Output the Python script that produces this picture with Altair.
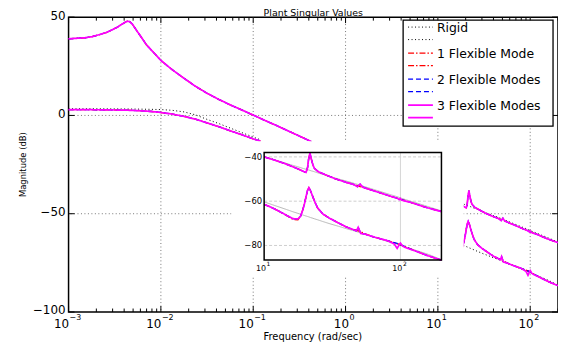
import altair as alt
import pandas as pd

# ---------------- data ----------------
models = ["Rigid", "1 Flexible Mode", "2 Flexible Modes", "3 Flexible Modes"]
line_colors = ["#000000", "#ff0000", "#0000ff", "#ff00ff"]
line_dashes = [[1, 2.5], [6, 2, 1.5, 2], [5, 3], [1, 0]]
line_widths = [1.0, 1.3, 1.3, 1.7]

# low-frequency part (main axes)
low_f_upper = [0.001, 0.0012, 0.0015, 0.0018, 0.00216, 0.0026, 0.00298, 0.0034, 0.00372, 0.0041,
               0.00432, 0.0046, 0.0049, 0.0055, 0.0062, 0.00693, 0.00775, 0.0085, 0.01, 0.0133,
               0.0178, 0.0237, 0.0316, 0.0422, 0.0562, 0.075, 0.1, 0.133, 0.178, 0.237, 0.316, 0.425]
low_db_upper = [39.0, 39.2, 39.5, 40.1, 41.1, 42.3, 43.6, 45.0, 46.2, 47.4,
                47.9, 47.7, 46.5, 43.0, 39.5, 36.1, 33.6, 31.6, 28.0, 23.2,
                18.9, 14.8, 11.3, 8.2, 5.4, 2.8, 0.2, -2.5, -5.1, -7.8, -10.5, -13.3]
low_f_lower = [0.001, 0.002, 0.004, 0.006, 0.008, 0.01, 0.0133, 0.0178, 0.0237, 0.0316, 0.0422,
               0.0562, 0.075, 0.1, 0.12]
low_db_lower_flex = [3.0, 2.9, 2.7, 2.4, 2.0, 1.5, 0.7, -0.5, -1.9, -3.8, -5.7,
                     -7.8, -9.8, -11.9, -13.1]
low_db_lower_rigid = [3.4, 3.4, 3.3, 3.2, 3.1, 3.0, 2.6, 1.8, 0.3, -2.0, -4.1,
                      -6.4, -8.7, -11.0, -12.4]

# high-frequency part (inset and right side of main axes)
high_f_upper = [10, 12, 14, 16, 18, 19.5, 20.3, 20.8, 21.2, 21.7, 22.2, 22.8, 23.4, 25, 28.5, 33,
                40, 45, 47, 48.5, 50.6, 53, 60, 70, 85, 95, 98, 100, 102, 120, 150, 200]
high_upper_rigid = [-40.0, -41.4, -42.6, -43.7, -44.6, -45.3, -45.6, -45.8, -45.9, -46.1, -46.3,
                    -46.5, -46.7, -47.3, -48.3, -49.5, -50.9, -51.8, -52.2, -52.4, -52.8, -53.2,
                    -54.2, -55.5, -57.1, -58.0, -58.3, -58.5, -58.7, -60.1, -61.9, -64.4]
high_upper_flex1 = [-40.0, -41.5, -42.9, -44.3, -45.6, -46.6, -47.0, -45.0, -41.0, -38.3, -41.0,
                    -43.6, -45.2, -46.7, -48.2, -49.8, -51.5, -52.4, -52.8, -53.0, -53.4, -53.7,
                    -54.8, -56.1, -57.8, -58.7, -59.0, -59.2, -59.3, -60.6, -62.6, -64.7]
high_upper_flex2 = [-40.0, -41.5, -42.9, -44.3, -45.6, -46.6, -47.0, -45.0, -41.0, -38.3, -41.0,
                    -43.6, -45.2, -46.7, -48.2, -49.8, -51.5, -52.4, -53.0, -53.5, -52.3, -53.7,
                    -54.8, -56.1, -57.8, -58.7, -59.0, -59.2, -59.3, -60.6, -62.6, -64.7]
high_upper_flex3 = [-40.0, -41.5, -42.9, -44.3, -45.6, -46.6, -47.0, -45.0, -41.0, -38.3, -41.0,
                    -43.6, -45.2, -46.7, -48.2, -49.8, -51.5, -52.4, -53.0, -53.5, -52.3, -53.7,
                    -54.8, -56.1, -57.8, -58.7, -59.3, -58.8, -59.5, -60.6, -62.6, -64.7]

high_f_lower = [10, 11.5, 13, 14.5, 16.3, 17.7, 18.5, 19.2, 19.8, 20.3, 20.8, 21.3, 21.9, 22.5,
                23.5, 24.7, 27, 30, 35, 40, 44.5, 47.5, 49, 51.2, 55, 65, 80, 90, 94.6, 99, 100,
                104, 108.6, 130, 160, 200]
high_lower_rigid = [-60.3, -61.6, -62.7, -63.7, -64.8, -65.5, -65.9, -66.2, -66.5, -66.7, -66.9,
                    -67.1, -67.4, -67.6, -68.0, -68.4, -69.2, -70.1, -71.3, -72.4, -73.2, -73.7,
                    -74.0, -74.4, -75.0, -76.4, -78.1, -79.0, -79.5, -79.9, -80.0, -80.3, -80.7,
                    -82.2, -84.0, -86.4]
high_lower_flex1 = [-61.4, -63.0, -64.7, -66.3, -68.3, -68.4, -66.8, -64.0, -61.0, -57.9, -55.2,
                    -53.9, -55.3, -57.2, -60.2, -63.1, -65.8, -67.6, -69.8, -71.6, -72.7, -73.1,
                    -73.4, -73.8, -74.8, -76.3, -77.8, -78.7, -79.1, -79.6, -79.7, -80.1, -80.6,
                    -82.6, -84.7, -86.6]
high_lower_flex2 = [-61.4, -63.0, -64.7, -66.3, -67.9, -68.0, -66.8, -64.0, -61.0, -57.9, -55.2,
                    -53.9, -55.3, -57.2, -60.2, -63.1, -65.8, -67.6, -69.8, -71.6, -72.7, -73.4,
                    -71.8, -74.6, -74.9, -76.3, -77.8, -78.7, -79.1, -79.6, -79.7, -80.1, -80.6,
                    -82.6, -84.7, -86.6]
high_lower_flex3 = [-61.4, -63.0, -64.7, -66.3, -67.9, -68.0, -66.8, -64.0, -61.0, -57.9, -55.2,
                    -53.9, -55.3, -57.2, -60.2, -63.1, -65.8, -67.6, -69.8, -71.6, -72.7, -73.4,
                    -71.8, -74.6, -74.9, -76.3, -77.8, -79.3, -81.3, -79.2, -78.9, -80.3, -80.9,
                    -82.6, -84.7, -86.6]

high_upper = [high_upper_rigid, high_upper_flex1, high_upper_flex2, high_upper_flex3]
high_lower = [high_lower_rigid, high_lower_flex1, high_lower_flex2, high_lower_flex3]

# axes / ticks
x_major = [0.001, 0.01, 0.1, 1, 10, 100]
x_exps = ["\u22123", "\u22122", "\u22121", "0", "1", "2"]
x_grid = [0.01, 0.1, 1, 10, 100]
x_minor = [m * 10.0 ** k for k in range(-3, 3) for m in range(2, 10) if m * 10.0 ** k <= 200]
y_major = [50, 0, -50, -100]
y_labels = ["50", "0", "\u221250", "\u2212100"]
y_grid = [0, -50]

inset_f = [10, 200]
inset_db = [-86.6, -38.0]
inset_x_ticks = [10, 100]
inset_x_exps = ["1", "2"]
inset_y_ticks = [-40, -60, -80]
inset_y_labels = ["\u221240", "\u221260", "\u221280"]

# ---------------- layout ----------------
W, H = 493, 297
FONT = "DejaVu Sans"

rows = []


def add(curve, freqs, values, model):
    for f, d in zip(freqs, values):
        rows.append({"curve": curve, "model": model, "f": f, "db": d})


for m in models:
    add("low_upper", low_f_upper, low_db_upper, m)
    add("low_lower", low_f_lower, low_db_lower_rigid if m == "Rigid" else low_db_lower_flex, m)
for m, up, lo in zip(models, high_upper, high_lower):
    add("high_upper", high_f_upper, up, m)
    add("high_lower", high_f_lower, lo, m)
curves = pd.DataFrame(rows)
high_curves = curves[curves["curve"].str.startswith("high")]
one = pd.DataFrame({"a": [0]})

XS = alt.Scale(type="log", domain=[0.001, 200], nice=False)
YS = alt.Scale(domain=[-100, 50], nice=False, zero=False)


def mx(f):
    return alt.X(f, scale=XS, axis=None)


def my(f):
    return alt.Y(f, scale=YS, axis=None)


main = []
grid_style = dict(color="#555555", strokeDash=[1, 2.5], strokeWidth=0.8)
main.append(alt.Chart(pd.DataFrame({"v": x_grid})).mark_rule(**grid_style).encode(x=mx("v:Q")))
main.append(alt.Chart(pd.DataFrame({"v": y_grid})).mark_rule(**grid_style).encode(y=my("v:Q")))

for m, c, d, w in zip(models, line_colors, line_dashes, line_widths):
    main.append(
        alt.Chart(curves).transform_filter(alt.datum.model == m)
        .mark_line(color=c, strokeDash=d, strokeWidth=w)
        .encode(x=mx("f:Q"), y=my("db:Q"), detail="curve:N")
    )

# white area behind the inset
main.append(alt.Chart(one).mark_rect(color="white").encode(
    x=alt.value(164), x2=alt.value(398), y=alt.value(125), y2=alt.value(261)))

# inward ticks
tick = dict(color="black", strokeWidth=1)
for vals, ln in ((x_major, 6), (x_minor, 3.5)):
    df = pd.DataFrame({"v": vals})
    main.append(alt.Chart(df).mark_rule(**tick).encode(x=mx("v:Q"), y=alt.value(H), y2=alt.value(H - ln)))
    main.append(alt.Chart(df).mark_rule(**tick).encode(x=mx("v:Q"), y=alt.value(0), y2=alt.value(ln)))
ydf = pd.DataFrame({"v": y_major, "t": y_labels})
main.append(alt.Chart(ydf).mark_rule(**tick).encode(y=my("v:Q"), x=alt.value(0), x2=alt.value(6)))
main.append(alt.Chart(ydf).mark_rule(**tick).encode(y=my("v:Q"), x=alt.value(W - 6), x2=alt.value(W)))

# y tick labels
main.append(alt.Chart(ydf).mark_text(align="right", baseline="middle", font=FONT, fontSize=12, dy=-1.5).encode(
    x=alt.value(-3), y=my("v:Q"), text="t:N"))

# x tick labels (10 with superscript exponent)
xdf = pd.DataFrame({"v": x_major, "e": x_exps})
for cond, dxb in ((alt.datum.v < 1, 0.5), (alt.datum.v >= 1, 3.5)):
    main.append(alt.Chart(xdf).transform_filter(cond).mark_text(
        align="right", baseline="alphabetic", font=FONT, fontSize=12, dx=dxb).encode(
        x=mx("v:Q"), y=alt.value(H + 16), text=alt.value("10")))
    main.append(alt.Chart(xdf).transform_filter(cond).mark_text(
        align="left", baseline="alphabetic", font=FONT, fontSize=8, dx=dxb + 0.5).encode(
        x=mx("v:Q"), y=alt.value(H + 8.5), text="e:N"))

# titles
main.append(alt.Chart(one).mark_text(align="center", baseline="alphabetic", font=FONT, fontSize=10).encode(
    x=alt.value(246), y=alt.value(H + 28), text=alt.value("Frequency (rad/sec)")))
main.append(alt.Chart(one).mark_text(align="center", baseline="middle", font=FONT, fontSize=8.5, angle=270).encode(
    x=alt.value(-46), y=alt.value(H / 2), text=alt.value("Magnitude (dB)")))
main.append(alt.Chart(one).mark_text(align="center", baseline="alphabetic", font=FONT, fontSize=9.5).encode(
    x=alt.value(246.5), y=alt.value(-1), text=alt.value("Plant Singular Values")))

# legend
main.append(alt.Chart(one).mark_rect(fill="white", stroke="black", strokeWidth=1.3).encode(
    x=alt.value(337), x2=alt.value(488), y=alt.value(3), y2=alt.value(109.7)))
for i, (m, c, d, w) in enumerate(zip(models, line_colors, line_dashes, line_widths)):
    y0 = 10.0 + 26.2 * i
    for yy in (y0, y0 + 12.6):
        main.append(alt.Chart(one).mark_rule(color=c, strokeDash=d, strokeWidth=w).encode(
            x=alt.value(342), x2=alt.value(367), y=alt.value(yy)))
    main.append(alt.Chart(one).mark_text(align="left", baseline="middle", font=FONT, fontSize=12.5).encode(
        x=alt.value(371), y=alt.value(y0 + 0.8), text=alt.value(m)))

# ---------------- inset ----------------
IX = alt.Scale(type="log", domain=inset_f, range=[197, 375.6], nice=False)
IY = alt.Scale(domain=inset_db, range=[244.7, 136.3], nice=False, zero=False)


def ix(f):
    return alt.X(f, scale=IX, axis=None)


def iy(f):
    return alt.Y(f, scale=IY, axis=None)


inset = []
hg = pd.DataFrame({"v": inset_y_ticks, "t": inset_y_labels, "x0": inset_f[0], "x1": inset_f[1]})
inset.append(alt.Chart(hg).mark_rule(color="#c8c8c8", strokeDash=[3, 2], strokeWidth=0.9).encode(
    x=ix("x0:Q"), x2="x1:Q", y=iy("v:Q")))
vg = pd.DataFrame({"v": [100], "y0": inset_db[0], "y1": inset_db[1]})
inset.append(alt.Chart(vg).mark_rule(color="#d0d0d0", strokeWidth=0.9).encode(
    x=ix("v:Q"), y=iy("y0:Q"), y2="y1:Q"))

inset_colors = ["#b4b4b4", "#ff0000", "#0000ff", "#ff00ff"]
inset_dashes = [[1, 0], [6, 2, 1.5, 2], [5, 3], [1, 0]]
for m, c, d, w in zip(models, inset_colors, inset_dashes, line_widths):
    inset.append(
        alt.Chart(high_curves).transform_filter(alt.datum.model == m)
        .mark_line(color=c, strokeDash=d, strokeWidth=w)
        .encode(x=ix("f:Q"), y=iy("db:Q"), detail="curve:N")
    )

fr = pd.DataFrame({"x0": [inset_f[0]], "x1": [inset_f[1]], "y0": [inset_db[0]], "y1": [inset_db[1]]})
inset.append(alt.Chart(fr).mark_rect(fillOpacity=0, stroke="black", strokeWidth=1.5).encode(
    x=ix("x0:Q"), x2="x1:Q", y=iy("y0:Q"), y2="y1:Q"))

inset.append(alt.Chart(hg).mark_text(align="right", baseline="middle", font=FONT, fontSize=8.5, dx=-2).encode(
    x=ix("x0:Q"), y=iy("v:Q"), text="t:N"))
ixdf = pd.DataFrame({"v": inset_x_ticks, "e": inset_x_exps})
inset.append(alt.Chart(ixdf).mark_text(align="right", baseline="alphabetic", font=FONT, fontSize=8, dx=2).encode(
    x=ix("v:Q"), y=alt.value(256), text=alt.value("10")))
inset.append(alt.Chart(ixdf).mark_text(align="left", baseline="alphabetic", font=FONT, fontSize=6, dx=2.5).encode(
    x=ix("v:Q"), y=alt.value(250.5), text="e:N"))

chart = (
    alt.layer(alt.layer(*main), alt.layer(*inset))
    .resolve_scale(x="independent", y="independent")
    .properties(width=W, height=H,
                padding={"left": 61, "top": 8, "right": 0, "bottom": 31},
                autosize=alt.AutoSizeParams(type="none"))
    .configure_view(stroke="black", strokeWidth=1.5)
)

chart.save("out.html", embed_options={"renderer": "svg", "actions": False})
